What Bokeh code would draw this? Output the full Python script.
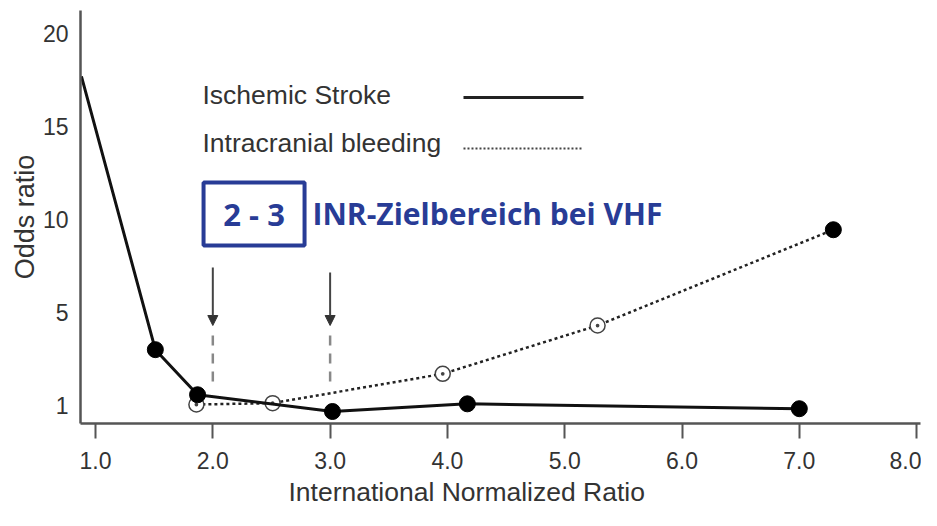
from bokeh.plotting import figure
from bokeh.models import FixedTicker, Label, Arrow, NormalHead, Range1d, Title
from bokeh.embed import file_html
from bokeh.resources import INLINE

# ---- data ----
inr_stroke = [0.88, 1.51, 1.87, 3.02, 4.17, 7.0]
or_stroke = [17.7, 3.4, 1.46, 0.74, 1.07, 0.86]
inr_bleed = [1.86, 2.51, 3.96, 5.28, 7.29]
or_bleed = [1.04, 1.10, 2.36, 4.44, 9.45]
x_ticks = [1, 2, 3, 4, 5, 6, 7, 8]
y_tick_values = [1, 5, 10, 15, 20]
target_range = [2.0, 3.0]
legend_labels = ["Ischemic Stroke", "Intracranial bleeding"]
x_title = "International Normalized Ratio"
y_title = "Odds ratio"
box_text = "2 - 3"
title_text = "INR-Zielbereich bei VHF"


# the odds-ratio axis of the original: 1..5 is stretched over 0..5, above 5 linear
def ypos(v):
    return v if v >= 5 else 5 - (5 - v) * 5 / 4


ys = [ypos(v) for v in or_stroke]
yb = [ypos(v) for v in or_bleed]

FONT = "Liberation Sans"
TXT = "#333333"
BLUE = "#283c96"

p = figure(width=921, height=510, output_backend="svg", toolbar_location=None,
           x_range=Range1d(0.872, 8.033), y_range=Range1d(-0.97, 21.24),
           min_border_left=80, min_border_right=1, min_border_top=10, min_border_bottom=0)
p.outline_line_color = None
p.xgrid.visible = False
p.ygrid.visible = False
p.background_fill_color = "white"

# axes
p.xaxis.ticker = FixedTicker(ticks=x_ticks)
p.xaxis.major_label_overrides = {t: f"{t:.1f}" for t in x_ticks}
p.yaxis.ticker = FixedTicker(ticks=[ypos(v) for v in y_tick_values])
p.yaxis.major_label_overrides = {ypos(v): str(v) for v in y_tick_values}
for ax in (p.xaxis, p.yaxis):
    ax.axis_line_color = "#555555"
    ax.axis_line_width = 2.5
    ax.major_label_text_font = FONT
    ax.major_label_text_color = TXT
    ax.major_label_text_font_size = "23px"
    ax.axis_label_text_font = FONT
    ax.axis_label_text_font_style = "normal"
    ax.axis_label_text_color = TXT
    ax.minor_tick_line_color = None
p.xaxis.major_tick_line_color = "#555555"
p.xaxis.major_tick_line_width = 2
p.xaxis.major_tick_out = 15
p.xaxis.major_tick_in = 0
p.xaxis.major_label_standoff = 13
p.yaxis.major_tick_line_color = None
p.yaxis.major_tick_out = 0
p.yaxis.major_tick_in = 0
p.yaxis.major_label_standoff = 12
p.yaxis.axis_label = y_title
p.yaxis.axis_label_text_font_size = "27px"
p.yaxis.axis_label_standoff = 0

# x-axis title (placed left of centre, as in the original)
p.add_layout(Title(text=x_title, align="left", offset=208, standoff=7,
                   text_font=FONT, text_font_size="26.5px", text_color=TXT,
                   text_font_style="normal"), "below")

# series
p.line(inr_bleed, yb, line_color="#222222", line_width=2.5, line_dash="3 3")
p.scatter(inr_bleed[:-1], yb[:-1], marker="circle_dot", size=15,
          fill_color="white", line_color="#444444", line_width=1.5)
p.scatter(inr_bleed[-1:], yb[-1:], marker="circle", size=16,
          fill_color="black", line_color="black")
p.line(inr_stroke, ys, line_color="#111111", line_width=3)
p.scatter(inr_stroke[1:], ys[1:], marker="circle", size=16,
          fill_color="black", line_color="black")

# target range arrows with dashed drop lines
for x in target_range:
    top = 7.42 if x == target_range[0] else 7.15
    p.add_layout(Arrow(x_start=x, y_start=top, x_end=x, y_end=4.3,
                       line_color="#444444", line_width=2,
                       end=NormalHead(size=10, fill_color="#333333", line_color="#333333")))
    p.segment(x0=x, y0=3.76, x1=x, y1=1.08, line_color="#888888",
              line_width=2.5, line_dash="10 8")

# legend (label left, line right)
p.add_layout(Label(x=1.912, y=16.67, text=legend_labels[0], text_font=FONT,
                   text_font_size="26.5px", text_color=TXT, text_baseline="middle"))
p.add_layout(Label(x=1.912, y=14.14, text=legend_labels[1], text_font=FONT,
                   text_font_size="26.5px", text_color=TXT, text_baseline="middle"))
p.segment(x0=4.137, y0=16.56, x1=5.16, y1=16.56, line_color="#222222", line_width=3)
p.segment(x0=4.137, y0=13.82, x1=5.16, y1=13.82, line_color="#444444",
          line_width=2, line_dash="2 2")

# blue annotation
p.quad(left=1.921, right=2.782, top=11.99, bottom=8.60, fill_color=None,
       line_color=BLUE, line_width=4)
p.add_layout(Label(x=2.352, y=10.32, text=box_text, text_font="Open Sans",
                   text_font_style="bold", text_font_size="31px", text_color=BLUE,
                   text_align="center", text_baseline="middle"))
p.add_layout(Label(x=2.85, y=10.32, text=title_text, text_font="Open Sans",
                   text_font_style="bold", text_font_size="30px", text_color=BLUE,
                   text_baseline="middle"))

open("out.html", "w").write(file_html(p, INLINE))
